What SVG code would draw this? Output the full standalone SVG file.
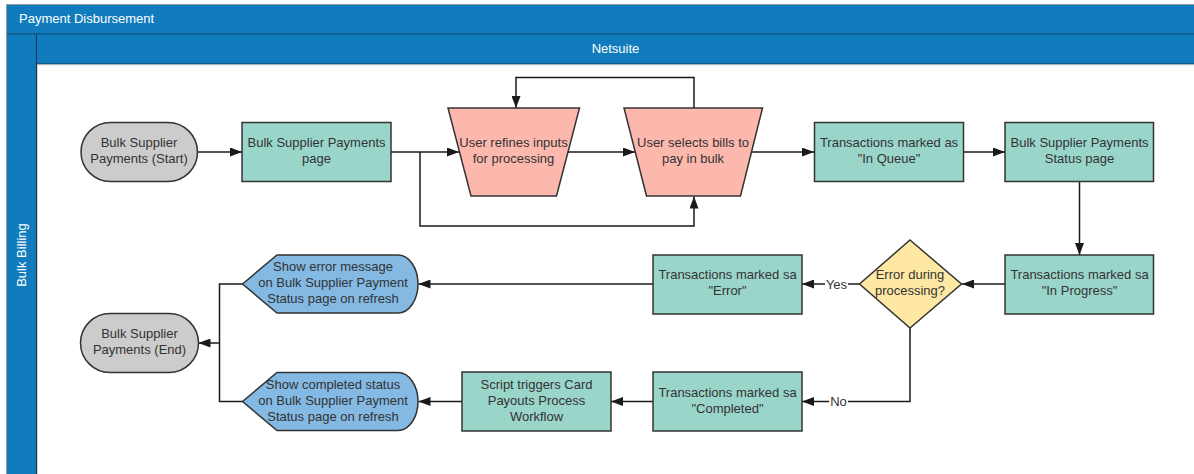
<svg xmlns="http://www.w3.org/2000/svg" width="1194" height="474" viewBox="0 0 1194 474">
  <style>
    .lbl { font-family: "Liberation Sans", Arial, sans-serif; font-size: 13px; fill: #333333; text-anchor: middle; }
    .hdr { font-family: "Liberation Sans", Arial, sans-serif; font-size: 13px; fill: #ffffff; }
    .proc { fill: #9ad5ca; stroke: #333333; stroke-width: 1.5; }
    .term { fill: #cccccc; stroke: #333333; stroke-width: 1.5; }
    .manual { fill: #fdb8ae; stroke: #333333; stroke-width: 1.5; }
    .disp { fill: #83b9e3; stroke: #333333; stroke-width: 1.5; }
    .dec { fill: #ffe8a3; stroke: #333333; stroke-width: 1.5; }
    .wire { fill: none; stroke: #1a1a1a; stroke-width: 1.5; }
  </style>
  <defs>
    <marker id="arrow" markerUnits="userSpaceOnUse" markerWidth="12" markerHeight="9" refX="12" refY="4.5" orient="auto">
      <path d="M0,0 L12,4.5 L0,9 Z" fill="#1a1a1a"/>
    </marker>
  </defs>

  <rect width="1194" height="474" fill="#ffffff"/>

  <!-- pool and lanes -->
  <g id="pool">
    <rect x="6.5" y="4.5" width="1200" height="480" fill="#107cbd" stroke="#999999" stroke-width="1"/>
    <rect x="7" y="5" width="1200" height="29" fill="#107cbd"/>
    <line x1="7" y1="34" x2="1194" y2="34" stroke="#163b52" stroke-width="1.2"/>
    <text class="hdr" x="19" y="23">Payment Disbursement</text>
  </g>
  <g id="lane-bulk-billing">
    <rect x="7" y="34.5" width="29.5" height="450" fill="#107cbd"/>
    <line x1="36.5" y1="34" x2="36.5" y2="474" stroke="#163b52" stroke-width="1.2"/>
    <text class="hdr" transform="translate(25.5,255) rotate(-90)" text-anchor="middle">Bulk Billing</text>
  </g>
  <g id="lane-netsuite">
    <rect x="37" y="34.5" width="1160" height="29.5" fill="#107cbd"/>
    <line x1="37" y1="64" x2="1194" y2="64" stroke="#163b52" stroke-width="1.2"/>
    <rect x="37.5" y="64.8" width="1160" height="420" fill="#ffffff" stroke="#cfcfcf" stroke-width="1"/>
    <text class="hdr" x="615.5" y="52.5" text-anchor="middle">Netsuite</text>
  </g>

  <!-- connectors -->
  <g id="connectors">
    <path class="wire" d="M197.5,152 H242" marker-end="url(#arrow)"/>
    <path class="wire" d="M391,152 H459" marker-end="url(#arrow)"/>
    <path class="wire" d="M420,152 V226 H694 V196.5" marker-end="url(#arrow)"/>
    <path class="wire" d="M568,152 H635" marker-end="url(#arrow)"/>
    <path class="wire" d="M694,108 V77.5 H516 V108" marker-end="url(#arrow)"/>
    <path class="wire" d="M751.5,152 H814" marker-end="url(#arrow)"/>
    <path class="wire" d="M963.5,152 H1005" marker-end="url(#arrow)"/>
    <path class="wire" d="M1079.5,181.5 V255" marker-end="url(#arrow)"/>
    <path class="wire" d="M1005,284 H962" marker-end="url(#arrow)"/>
    <path class="wire" d="M859.5,284 H802" marker-end="url(#arrow)"/>
    <path class="wire" d="M653,284 H418.5" marker-end="url(#arrow)"/>
    <path class="wire" d="M910,328 V401.5 H802" marker-end="url(#arrow)"/>
    <path class="wire" d="M653,401.5 H611" marker-end="url(#arrow)"/>
    <path class="wire" d="M462,401.5 H418.5" marker-end="url(#arrow)"/>
    <path class="wire" d="M242.5,284 H219.5 V401.5 H242.5"/>
    <path class="wire" d="M219.5,343 H198.5" marker-end="url(#arrow)"/>
    <rect x="825" y="276" width="23" height="16" fill="#ffffff"/>
    <text class="lbl" x="836.5" y="288.5">Yes</text>
    <rect x="829" y="393.5" width="19" height="16" fill="#ffffff"/>
    <text class="lbl" x="838.5" y="406">No</text>
  </g>

  <!-- nodes -->
  <g id="start">
    <rect class="term" x="81" y="122.5" width="116.5" height="59" rx="29.5" ry="29.5"/>
    <text class="lbl" x="139" y="147">Bulk Supplier</text>
    <text class="lbl" x="139" y="163">Payments (Start)</text>
  </g>
  <g id="payments-page">
    <rect class="proc" x="242" y="122.5" width="149" height="59"/>
    <text class="lbl" x="316.5" y="147">Bulk Supplier Payments</text>
    <text class="lbl" x="316.5" y="163">page</text>
  </g>
  <g id="refine-inputs">
    <path class="manual" d="M448,108 H579.5 L556.5,196 H471 Z"/>
    <text class="lbl" x="513.5" y="147">User refines inputs</text>
    <text class="lbl" x="513.5" y="163">for processing</text>
  </g>
  <g id="select-bills">
    <path class="manual" d="M624,108 H762.5 L740.5,196 H646.5 Z"/>
    <text class="lbl" x="693" y="147">User selects bills to</text>
    <text class="lbl" x="693" y="163">pay in bulk</text>
  </g>
  <g id="in-queue">
    <rect class="proc" x="814.5" y="122.5" width="149" height="59"/>
    <text class="lbl" x="889" y="147">Transactions marked as</text>
    <text class="lbl" x="889" y="163">"In Queue"</text>
  </g>
  <g id="status-page">
    <rect class="proc" x="1005" y="122.5" width="148.5" height="59"/>
    <text class="lbl" x="1079.5" y="147">Bulk Supplier Payments</text>
    <text class="lbl" x="1079.5" y="163">Status page</text>
  </g>
  <g id="in-progress">
    <rect class="proc" x="1005" y="255" width="148.5" height="59"/>
    <text class="lbl" x="1079.5" y="279">Transactions marked sa</text>
    <text class="lbl" x="1079.5" y="295">"In Progress"</text>
  </g>
  <g id="error-decision">
    <path class="dec" d="M910,240 L961.5,284 L910,328 L859.5,284 Z"/>
    <text class="lbl" x="910" y="279">Error during</text>
    <text class="lbl" x="910" y="295">processing?</text>
  </g>
  <g id="marked-error">
    <rect class="proc" x="653" y="255" width="149" height="59"/>
    <text class="lbl" x="727.5" y="279">Transactions marked sa</text>
    <text class="lbl" x="727.5" y="295">"Error"</text>
  </g>
  <g id="marked-completed">
    <rect class="proc" x="653" y="372" width="149" height="59"/>
    <text class="lbl" x="727.5" y="396.5">Transactions marked sa</text>
    <text class="lbl" x="727.5" y="412.5">"Completed"</text>
  </g>
  <g id="card-payouts">
    <rect class="proc" x="462" y="372" width="149" height="59"/>
    <text class="lbl" x="536.5" y="388.5">Script triggers Card</text>
    <text class="lbl" x="536.5" y="404.5">Payouts Process</text>
    <text class="lbl" x="536.5" y="420.5">Workflow</text>
  </g>
  <g id="show-error">
    <path class="disp" d="M242.5,284 L277,255 H398 A20,29 0 0 1 398,313 H277 Z"/>
    <text class="lbl" x="333" y="271">Show error message</text>
    <text class="lbl" x="333" y="287">on Bulk Supplier Payment</text>
    <text class="lbl" x="333" y="303">Status page on refresh</text>
  </g>
  <g id="show-completed">
    <path class="disp" d="M242.5,401.5 L277,372.5 H398 A20,29 0 0 1 398,430.5 H277 Z"/>
    <text class="lbl" x="333" y="388.5">Show completed status</text>
    <text class="lbl" x="333" y="404.5">on Bulk Supplier Payment</text>
    <text class="lbl" x="333" y="420.5">Status page on refresh</text>
  </g>
  <g id="end">
    <rect class="term" x="80.5" y="313.5" width="118" height="59" rx="29.5" ry="29.5"/>
    <text class="lbl" x="139.5" y="338">Bulk Supplier</text>
    <text class="lbl" x="139.5" y="354">Payments (End)</text>
  </g>
</svg>
